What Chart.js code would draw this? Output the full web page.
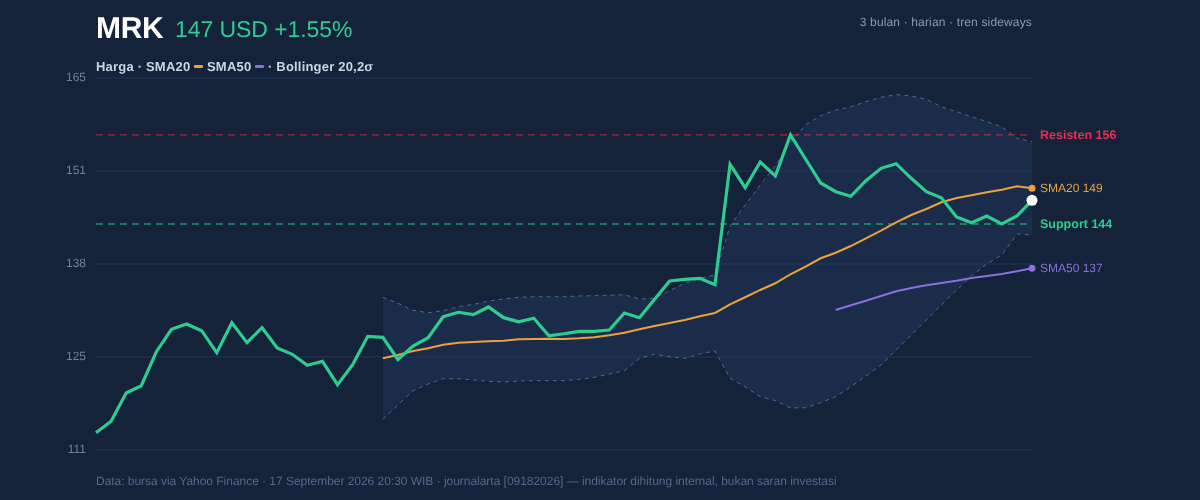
<!DOCTYPE html>
<html lang="id">
<head>
<meta charset="utf-8">
<title>MRK</title>
<script src="https://cdn.jsdelivr.net/npm/chart.js@4/dist/chart.umd.min.js"></script>
<style>
  html, body { margin: 0; padding: 0; background: #14223a; }
  body { width: 1200px; height: 500px; overflow: hidden; position: relative; font-family: "Liberation Sans", sans-serif; text-rendering: geometricPrecision; }
  canvas { position: absolute; left: 0; top: 0; }
  .teks { position: absolute; white-space: nowrap; }
  #simbol { left: 96px; top: 11px; font-size: 30px; line-height: 36px; font-weight: 700; letter-spacing: -0.3px; color: #ffffff; }
  #harga { left: 175px; top: 14px; font-size: 23px; line-height: 30px; letter-spacing: -0.07px; color: #2ecc8f; }
  #info { right: 168px; top: 15px; font-size: 12px; line-height: 14px; letter-spacing: 0.15px; color: #8a9ab6; }
  #legenda { left: 96px; top: 59px; font-size: 13px; line-height: 16px; font-weight: 700; letter-spacing: 0.2px; color: #cbd5e6; }
  #legenda i { display: inline-block; width: 9px; height: 3px; border-radius: 1px; vertical-align: 3px; }
  #sumber { left: 96px; top: 474px; font-size: 12px; line-height: 14px; letter-spacing: -0.03px; color: #56688a; }
</style>
</head>
<body>
<canvas id="grafik" width="1200" height="500"></canvas>
<div class="teks" id="simbol">MRK</div>
<div class="teks" id="harga">147 USD +1.55%</div>
<div class="teks" id="info">3 bulan · harian · tren sideways</div>
<div class="teks" id="legenda">Harga · SMA20 <i style="background:#e8a33d"></i> SMA50 <i style="background:#8b6fe0"></i> · Bollinger 20,2σ</div>
<div class="teks" id="sumber">Data: bursa via Yahoo Finance · 17 September 2026 20:30 WIB · journalarta [09182026] — indikator dihitung internal, bukan saran investasi</div>
<script>
const hari = Array.from({ length: 63 }, (_, i) => i + 1);

const tickLabels = ["111", "125", "138", "151", "165"];

const harga = [
  113.51, 115.17, 119.27, 120.33, 125.27, 128.52, 129.29, 128.32, 125.12, 129.48,
  126.58, 128.75, 125.81, 124.89, 123.3, 123.88, 120.48, 123.38, 127.5, 127.36,
  124.14, 126.1, 127.3, 130.35, 130.99, 130.64, 131.76, 130.21, 129.62, 130.12,
  127.59, 127.88, 128.23, 128.23, 128.42, 130.89, 130.21, 132.88, 135.53, 135.78,
  135.92, 135.0, 152.47, 149.08, 152.81, 150.77, 156.73, 153.24, 149.76, 148.5,
  147.83, 150.09, 151.89, 152.56, 150.44, 148.5, 147.62, 144.82, 144.0, 144.97,
  143.81, 144.97, 147.25,
];

const sma20 = [
  null, null, null, null, null, null, null, null, null, null,
  null, null, null, null, null, null, null, null, null, 124.31,
  124.79, 125.37, 125.76, 126.29, 126.58, 126.68, 126.78, 126.87, 127.07, 127.11,
  127.16, 127.11, 127.21, 127.36, 127.65, 128.03, 128.52, 129.0, 129.44, 129.87,
  130.41, 130.89, 132.15, 133.17, 134.23, 135.2, 136.51, 137.61, 138.83, 139.64,
  140.61, 141.73, 142.83, 144.05, 145.11, 145.98, 146.96, 147.58, 147.97, 148.41,
  148.79, 149.28, 148.99,
];

const sma50 = [
  null, null, null, null, null, null, null, null, null, null,
  null, null, null, null, null, null, null, null, null, null,
  null, null, null, null, null, null, null, null, null, null,
  null, null, null, null, null, null, null, null, null, null,
  null, null, null, null, null, null, null, null, null, 131.32,
  132.01, 132.67, 133.36, 134.04, 134.52, 134.91, 135.24, 135.58, 135.97, 136.26,
  136.55, 136.94, 137.38,
];

const bollingerAtas = [
  null, null, null, null, null, null, null, null, null, null,
  null, null, null, null, null, null, null, null, null, 133.17,
  132.3, 131.28, 130.93, 131.22, 131.8, 132.15, 132.63, 132.92, 133.17, 133.25,
  133.25, 133.25, 133.36, 133.4, 133.46, 133.54, 132.92, 133.02, 134.12, 135.2,
  135.92, 136.4, 143.52, 146.56, 149.47, 152.27, 155.75, 158.18, 159.53, 160.35,
  160.83, 161.56, 162.2, 162.58, 162.39, 161.91, 160.83, 160.11, 159.38, 158.66,
  157.93, 156.25, 155.75,
];

const bollingerBawah = [
  null, null, null, null, null, null, null, null, null, null,
  null, null, null, null, null, null, null, null, null, 115.46,
  117.53, 119.61, 120.58, 121.35, 121.35, 121.16, 120.97, 120.87, 121.02, 121.06,
  121.06, 121.06, 121.26, 121.55, 122.03, 122.51, 124.31, 124.89, 124.54, 124.31,
  124.94, 125.37, 121.41, 120.19, 118.74, 118.16, 117.1, 117.14, 117.87, 118.74,
  120.19, 121.74, 123.34, 125.52, 127.69, 129.87, 132.05, 134.23, 136.26, 138.0,
  139.31, 142.35, 142.21,
];

const resisten = 156.73;
const support = 143.81;

const warnaHarga = "#2ecc8f";
const warnaSma20 = "#e8a33d";
const warnaSma50 = "#8b6fe0";
const warnaResisten = "#e8304f";

// Titik hanya di ujung kanan garis
function titikUjung(radius) {
  return (ctx) => (ctx.dataIndex === hari.length - 1 ? radius : 0);
}

// Teks kanvas tanpa hinting, supaya lebarnya sama dengan teks di halaman
const teksHalus = {
  id: "teksHalus",
  beforeDraw(chart) {
    chart.ctx.textRendering = "geometricPrecision";
  },
};

// Label di kanan grafik mengikuti skala y
const labelKanan = {
  id: "labelKanan",
  afterDraw(chart) {
    const { ctx, scales } = chart;
    const daftar = [
      { teks: "Resisten 156", nilai: resisten, warna: warnaResisten, tebal: true },
      { teks: "SMA20 149", nilai: sma20[62], warna: warnaSma20, tebal: false },
      { teks: "Support 144", nilai: support, warna: warnaHarga, tebal: true },
      { teks: "SMA50 137", nilai: sma50[62], warna: warnaSma50, tebal: false },
    ];
    ctx.save();
    ctx.textBaseline = "middle";
    daftar.forEach((item) => {
      ctx.font = item.tebal ? '700 12.5px "Liberation Sans"' : '12px "Liberation Sans"';
      ctx.fillStyle = item.warna;
      ctx.fillText(item.teks, 1040, scales.y.getPixelForValue(item.nilai) + 0.5);
    });
    ctx.restore();
  },
};

new Chart(document.getElementById("grafik").getContext("2d"), {
  type: "line",
  plugins: [teksHalus, labelKanan],
  data: {
    labels: hari,
    datasets: [
      {
        label: "Bollinger atas",
        data: bollingerAtas,
        borderColor: "rgba(86, 112, 160, 0.9)",
        borderWidth: 1,
        borderDash: [4, 4],
        backgroundColor: "rgba(38, 60, 100, 0.4)",
        fill: "+1",
        pointRadius: 0,
        order: 6,
      },
      {
        label: "Bollinger bawah",
        data: bollingerBawah,
        borderColor: "rgba(86, 112, 160, 0.9)",
        borderWidth: 1,
        borderDash: [4, 4],
        pointRadius: 0,
        order: 5,
      },
      {
        label: "Resisten",
        data: hari.map(() => resisten),
        borderColor: "rgba(232, 48, 79, 0.65)",
        borderWidth: 1.3,
        borderDash: [7, 5],
        pointRadius: 0,
        order: 4,
      },
      {
        label: "Support",
        data: hari.map(() => support),
        borderColor: "rgba(46, 204, 143, 0.65)",
        borderWidth: 1.3,
        borderDash: [7, 5],
        pointRadius: 0,
        order: 4,
      },
      {
        label: "SMA50",
        data: sma50,
        borderColor: warnaSma50,
        backgroundColor: warnaSma50,
        borderWidth: 2,
        pointRadius: titikUjung(3.5),
        pointBorderWidth: 0,
        order: 3,
      },
      {
        label: "SMA20",
        data: sma20,
        borderColor: warnaSma20,
        backgroundColor: warnaSma20,
        borderWidth: 2,
        pointRadius: titikUjung(3.5),
        pointBorderWidth: 0,
        order: 2,
      },
      {
        label: "Harga",
        data: harga,
        borderColor: warnaHarga,
        borderWidth: 3.2,
        pointBackgroundColor: "#ffffff",
        pointRadius: titikUjung(5.5),
        pointBorderWidth: 0,
        order: 1,
      },
    ],
  },
  options: {
    responsive: false,
    animation: false,
    clip: false,
    layout: { padding: { top: 78, right: 168, bottom: 50, left: 0 } },
    plugins: {
      legend: { display: false },
      tooltip: { enabled: false },
    },
    elements: { line: { tension: 0 } },
    scales: {
      x: { display: false, offset: false },
      y: {
        min: 111,
        max: 165,
        afterFit: (axis) => { axis.width = 96; },
        border: { display: false },
        grid: { color: "#1c2b48", lineWidth: 2, drawTicks: false },
        ticks: {
          stepSize: 13.5,
          padding: 10,
          color: "#6f80a0",
          font: { family: "Liberation Sans", size: 12 },
          callback: (value, index) => tickLabels[index],
        },
      },
    },
  },
});
</script>
</body>
</html>
